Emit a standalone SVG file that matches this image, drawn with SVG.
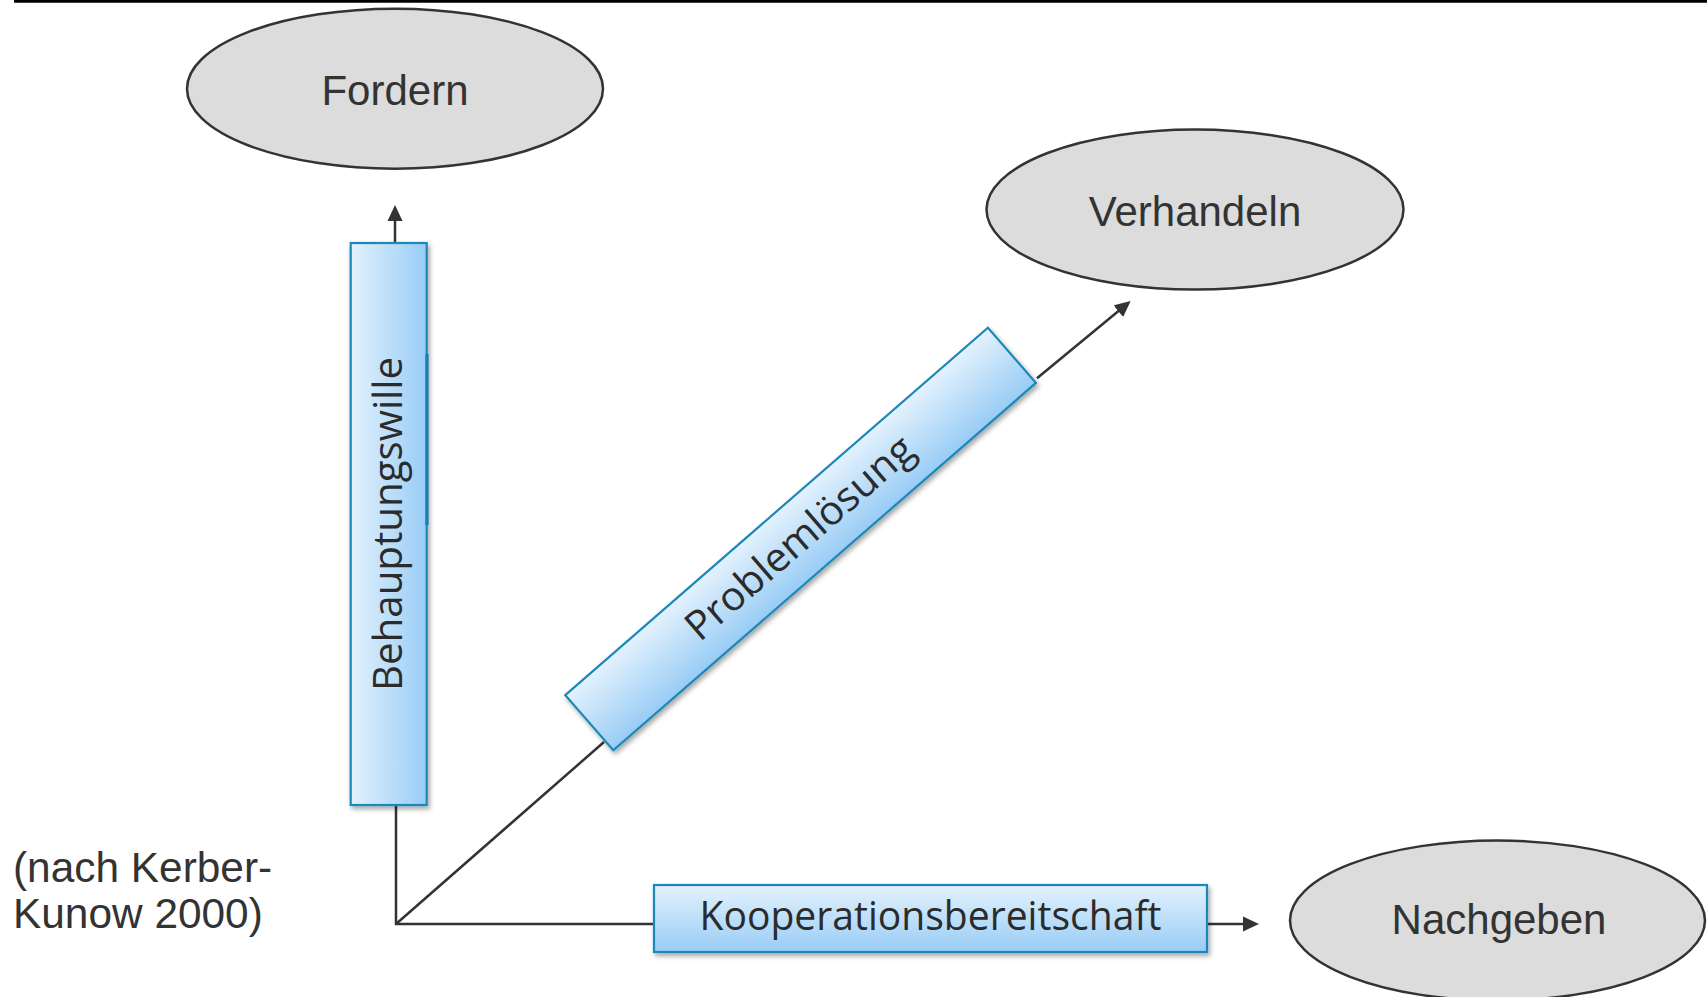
<svg xmlns="http://www.w3.org/2000/svg" width="1707" height="997" viewBox="0 0 1707 997">
  <defs>
    <style>
      .ell { fill: #dcdcdc; stroke: #333333; stroke-width: 2.5; }
      .etxt { font-family: "Liberation Sans", Arial, sans-serif; font-size: 42px; fill: #333333; text-anchor: middle; }
      .box { fill: url(#boxgrad); stroke: #1a88ba; stroke-width: 2.2; }
      .btxt { font-family: "Open Sans", "Noto Sans", sans-serif; font-size: 40px; fill: #2b2b2b; text-anchor: middle; }
      .conn { fill: none; stroke: #333333; stroke-width: 2.5; }
      .cite { font-family: "Liberation Sans", Arial, sans-serif; font-size: 42.4px; fill: #333333; }
    </style>
    <linearGradient id="boxgrad" x1="0" y1="0" x2="0" y2="1">
      <stop offset="0" stop-color="#e4f2fd"/>
      <stop offset="1" stop-color="#98ccf5"/>
    </linearGradient>
    <filter id="shadow" x="-10%" y="-10%" width="120%" height="130%">
      <feDropShadow dx="2" dy="3" stdDeviation="2.5" flood-color="#000000" flood-opacity="0.35"/>
    </filter>
    <marker id="arrow" viewBox="0 0 16 16" refX="12" refY="8" markerWidth="16" markerHeight="16" markerUnits="userSpaceOnUse" orient="auto">
      <path d="M0,0.5 L16,8 L0,15.5 Z" fill="#333333"/>
    </marker>
  </defs>

  <rect x="0" y="0" width="1707" height="997" fill="#ffffff"/>
  <line x1="14" y1="1.3" x2="1707" y2="1.3" stroke="#000000" stroke-width="2.7"/>

  <g id="connectors">
    <line class="conn" x1="395" y1="243" x2="395" y2="209" marker-end="url(#arrow)"/>
    <polyline class="conn" points="396,805 396,924 655,924"/>
    <line class="conn" x1="396" y1="924" x2="604" y2="742"/>
    <line class="conn" x1="1037" y1="378.3" x2="1127.6" y2="303.5" marker-end="url(#arrow)"/>
    <line class="conn" x1="1207" y1="924" x2="1255" y2="924" marker-end="url(#arrow)"/>
  </g>

  <g id="fordern">
    <ellipse class="ell" cx="395" cy="88.7" rx="208" ry="80"/>
    <text class="etxt" x="395" y="105">Fordern</text>
  </g>

  <g id="verhandeln">
    <ellipse class="ell" cx="1195" cy="209.6" rx="208.5" ry="80"/>
    <text class="etxt" x="1195" y="226">Verhandeln</text>
  </g>

  <g id="nachgeben">
    <ellipse class="ell" cx="1497.5" cy="920.5" rx="207.5" ry="80"/>
    <text class="etxt" x="1499" y="934">Nachgeben</text>
  </g>

  <g id="behauptungswille">
    <g filter="url(#shadow)">
      <g transform="translate(388.7,524) rotate(-90)">
        <rect class="box" x="-281" y="-38" width="562" height="76"/>
      </g>
    </g>
    <line x1="427" y1="354" x2="427" y2="525" stroke="#1a7fb2" stroke-width="3.2"/>
    <g transform="translate(388.7,524) rotate(-90)">
      <text class="btxt" x="0" y="13" textLength="334" lengthAdjust="spacingAndGlyphs">Behauptungswille</text>
    </g>
  </g>

  <g id="problemloesung">
    <g filter="url(#shadow)">
      <g transform="translate(800.6,539) rotate(-41)">
        <rect class="box" x="-280" y="-36.6" width="560" height="73.2"/>
      </g>
    </g>
    <g transform="translate(800.6,539) rotate(-41)">
      <text class="btxt" x="0" y="12" textLength="288" lengthAdjust="spacingAndGlyphs">Problemlösung</text>
    </g>
  </g>

  <g id="kooperationsbereitschaft">
    <g filter="url(#shadow)">
      <rect class="box" x="654" y="885" width="553" height="67"/>
    </g>
    <text class="btxt" x="930.5" y="930" textLength="462" lengthAdjust="spacingAndGlyphs">Kooperationsbereitschaft</text>
  </g>

  <g id="citation">
    <text class="cite" x="13" y="882">(nach Kerber-</text>
    <text class="cite" x="13" y="927.5">Kunow 2000)</text>
  </g>
</svg>
